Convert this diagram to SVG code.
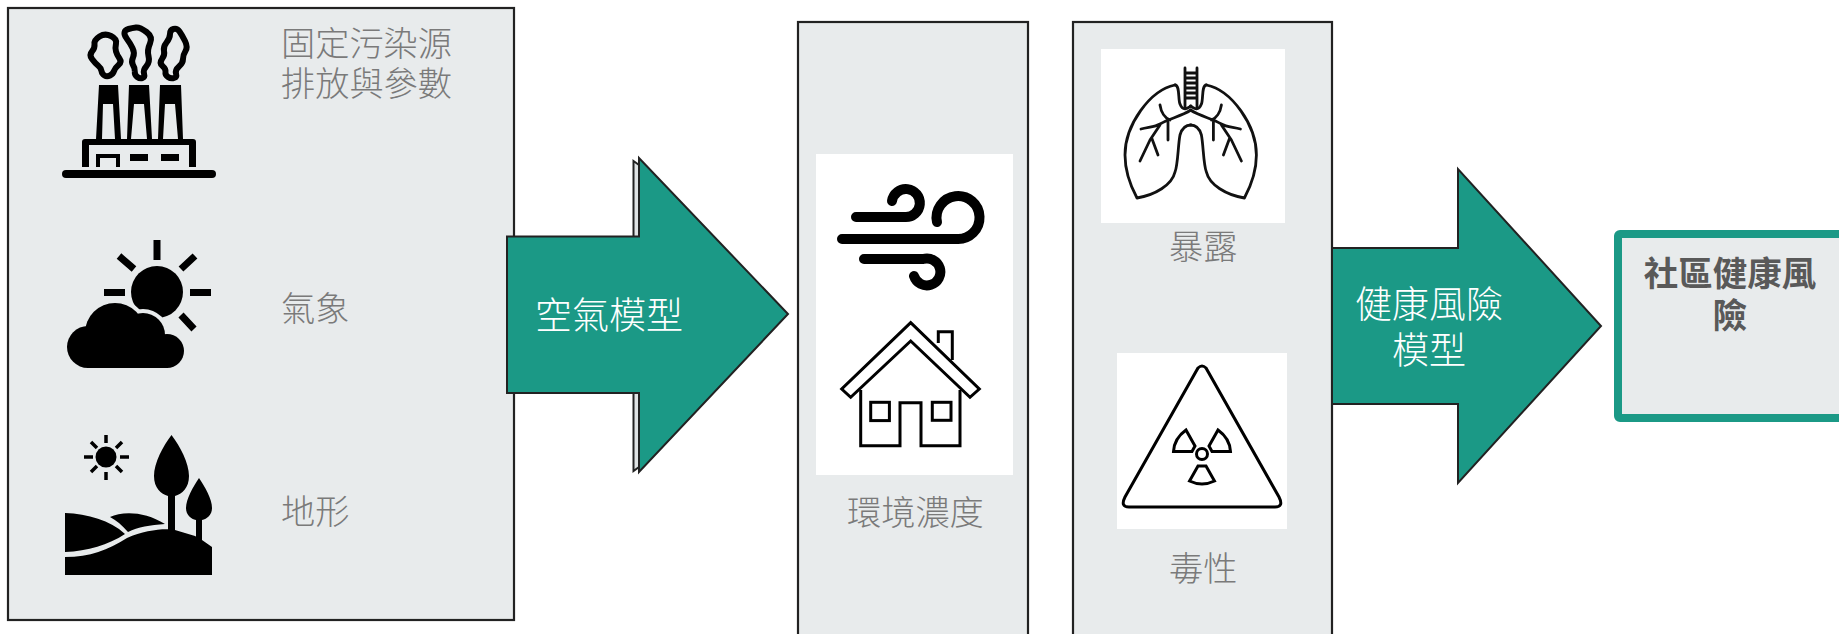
<svg xmlns="http://www.w3.org/2000/svg" width="1839" height="634" viewBox="0 0 1839 634">
<style>
text{font-family:"Noto Sans CJK TC","Noto Sans CJK SC",sans-serif;font-weight:300}
.panel{fill:#e8ebec;stroke:#222;stroke-width:2.2}
.white{fill:#fff}
.lbl{font-size:34.200px;fill:#7a7a7a}
.wl{font-size:37px;fill:#fff}
.res{font-size:34.500px;fill:#595959;font-weight:700;text-anchor:middle}
.arrow{fill:#1b9986;stroke:#222;stroke-width:2;stroke-linejoin:miter}
.ol{fill:none;stroke:#000;stroke-width:3;stroke-linejoin:miter}
.thin{fill:none;stroke:#111;stroke-width:2.800;stroke-linecap:round;stroke-linejoin:round}
.ray{stroke:#000;fill:none}
.k{fill:#000}
.bg{fill:#e8ebec}
.smoke{fill:none;stroke:#000;stroke-width:6;stroke-linejoin:round}
</style>
<g id="node-sources">
<rect class="panel" x="8" y="8" width="506" height="612"/>
<g id="icon-factory">
<rect class="k" x="62" y="170" width="154" height="8" rx="4"/>
<path class="k" d="M99,85H118L121,139H96ZM129,85H149L152,139H127ZM160,85H181L183,139H158Z"/>
<path class="bg" d="M103,104H113L115,139H102ZM134,104H144L147,139H131ZM165,104H175L178,139H163Z"/>
<path class="k" d="M82,167V142Q82,139 85,139H193Q196,139 196,142V167H189V145H89V167Z"/>
<path class="k" d="M96,167V154H120V167H116V158H100V167ZM130,154H148V161H130ZM161,154H179V161H161Z"/>
<path class="smoke" d="M110,75.500Q107,77 104.500,75.500Q102,74 101.500,71Q101,68 98,65.500Q95,63 92,59Q89,55 92,51.500Q95,48 94.500,44Q94,40 99.500,36.500Q105,33 111,36Q117,39 116,43.500Q115,48 116,51.500Q117,55 119.500,58.500Q122,62 118.500,65Q115,68 114,71Q113,74 110,75.500Z"/>
<path class="smoke" d="M142.500,78Q140,79 137.300,77Q134.500,75 134.800,71.500Q135,68 133,65Q131,62 133,57.500Q135,53 132.500,48Q130,43 127,39Q124,35 124.500,32.500Q125,30 128.500,29Q132,28 136,27.500Q140,27 146.500,32Q153,37 150,43.500Q147,50 148.500,56Q150,62 146.500,66Q143,70 144,73.500Q145,77 142.500,78Z"/>
<path class="smoke" d="M174,78Q171,79 168,77Q165,75 165.500,72Q166,69 162.500,66Q159,63 162,59Q165,55 164,51Q163,47 166.500,42.500Q170,38 170,34Q170,30 173.500,29Q177,28 179.500,31.500Q182,35 185,41Q188,47 185.500,51Q183,55 183,59Q183,63 179,66.500Q175,70 176,73.500Q177,77 174,78Z"/>
</g>
<text class="lbl"><tspan x="281" y="55.500">固定污染源</tspan><tspan x="281" y="96">排放與參數</tspan></text>
<g id="icon-weather">
<circle class="k" cx="157" cy="292" r="26"/>
<path class="ray" stroke-width="7" d="M157,240V260M104,292.500H125M190,292.500H211M119,256L134,269M195,256L181,269M181,315L194,329"/>
<g class="bg"><circle cx="88" cy="347" r="25"/><circle cx="115" cy="333" r="34"/><circle cx="143" cy="335" r="26"/><circle cx="167" cy="352" r="21"/></g>
<g class="k"><circle cx="88" cy="347" r="21"/><circle cx="115" cy="333" r="30"/><circle cx="143" cy="335" r="22"/><circle cx="167" cy="351" r="17"/><rect x="88" y="340" width="80" height="28"/></g>
</g>
<text class="lbl" x="281" y="321">氣象</text>
<g id="icon-terrain">
<circle class="k" cx="106" cy="457" r="10.500"/>
<path class="ray" stroke-width="3.500" d="M106,435V443M106,472V480M84,457H93M120,457H129M91,442L97,448M122,442L116,448M91,472L97,466M122,472L116,466"/>
<path class="k" d="M171.500,435C180,446 189,463 189,476C189,488 182,494 175,496V532H168V496C161,494 154,488 154,476C154,463 163,446 171.500,435ZM199,478C205,487 212,499 212,508C212,515 207,519 202,520V545H196V520C191,519 186,515 186,508C186,499 193,487 199,478Z"/>
<path class="k" d="M65,513C88,514 110,520 125,534C108,545 88,551 65,552ZM110,517C122,511 145,511 165,524C150,525 138,527 128,532C122,525 116,520 110,517ZM65,557C90,557 108,550 127,538C145,530 165,528 175,530L195,536L202,540L212,547V575H65Z"/>
</g>
<text class="lbl" x="281" y="524">地形</text>
</g>
<g id="node-concentration">
<rect class="panel" x="798" y="22" width="230" height="630"/>
<rect class="white" x="816" y="154" width="197" height="321"/>
<g id="icon-wind" fill="none" stroke="#000" stroke-width="10" stroke-linecap="round">
<path d="M856,217H905A14,14 0 1 0 892,201"/>
<path d="M842,239H957A21.500,21.500 0 1 0 937,222"/>
<path d="M864,259H923A13.500,13.500 0 1 1 914,276"/>
</g>
<g id="icon-house" class="ol">
<path d="M910.700,322.700L841.700,389L850.700,397.300L910.700,341L970,397.300L979.300,389Z"/>
<path d="M938.300,343V331.700H952.300V360"/>
<path d="M860.700,390V445.700H900V402.700H921V445.700H960V390"/>
<rect x="870.700" y="402.300" width="18.700" height="18.300"/>
<rect x="932.300" y="402.300" width="18.700" height="18"/>
</g>
<text class="lbl" x="847" y="525">環境濃度</text>
</g>
<g id="node-exposure">
<rect class="panel" x="1073" y="22" width="259" height="630"/>
<rect class="white" x="1101" y="49" width="184" height="174"/>
<g id="icon-lungs" class="thin">
<path d="M1185,68V107M1197,68V107M1185,73H1197M1185,78H1197M1185,83H1197M1185,88H1197M1185,93H1197M1185,98H1197"/>
<g id="lung-l">
<path d="M1175,85C1150,90 1125,125 1125,155C1125,170 1130,185 1137,198C1155,195 1172,185 1175,172C1178,165 1178,145 1180,135C1182,128 1186,125 1191,125"/>
<path d="M1175,85C1180,85 1178,100 1180,104C1183,112 1188,108 1191,106"/>
<path d="M1191,110C1180,117 1170,118 1160,124C1155,127 1148,127 1141,129M1160,105C1161,112 1165,118 1170,120M1168,122V140M1160,125L1150,140L1140,161M1151.700,138L1158,155"/>
</g>
<g transform="matrix(-1 0 0 1 2381.400 0)">
<path d="M1175,85C1150,90 1125,125 1125,155C1125,170 1130,185 1137,198C1155,195 1172,185 1175,172C1178,165 1178,145 1180,135C1182,128 1186,125 1191,125"/>
<path d="M1175,85C1180,85 1178,100 1180,104C1183,112 1188,108 1191,106"/>
<path d="M1191,110C1180,117 1170,118 1160,124C1155,127 1148,127 1141,129M1160,105C1161,112 1165,118 1170,120M1168,122V140M1160,125L1150,140L1140,161M1151.700,138L1158,155"/>
</g>
</g>
<text class="lbl" x="1169" y="259">暴露</text>
<rect class="white" x="1117" y="353" width="170" height="176"/>
<g id="icon-toxic" class="ol">
<path d="M1198,368Q1202,364 1206,368L1279,497Q1284,507 1275,507H1129Q1120,507 1125,497Z"/>
<circle cx="1202" cy="454" r="5.500"/>
<path d="M1186,430L1195,446L1192,451.500H1173.500C1174,442 1179,435 1186,430Z"/>
<path d="M1218,430L1209,446L1212,451.500H1230.500C1230,442 1225,435 1218,430Z"/>
<path d="M1198,466H1206L1214.500,481Q1202,487 1189.500,481Z"/>
</g>
<text class="lbl" x="1169" y="581">毒性</text>
</g>
<g id="connectors">
<path d="M633.500,161L639,165V467L633.500,471Z" fill="#dfe3e4" stroke="#222" stroke-width="2"/>
<path class="arrow" d="M507,236.500H639V158L788,314L639,472V393H507Z"/>
<text class="wl" x="535" y="329">空氣模型</text>
<path class="arrow" d="M1332,248H1458V169L1601,326L1458,483V404H1332Z"/>
<text class="wl"><tspan x="1355" y="318">健康風險</tspan><tspan x="1392" y="364">模型</tspan></text>
</g>
<g id="node-result">
<rect x="1618" y="234" width="240" height="184" rx="2" fill="#e8ebec" stroke="#1b9986" stroke-width="8"/>
<text class="res"><tspan x="1730" y="286">社區健康風</tspan><tspan x="1730" y="328">險</tspan></text>
</g>
</svg>
